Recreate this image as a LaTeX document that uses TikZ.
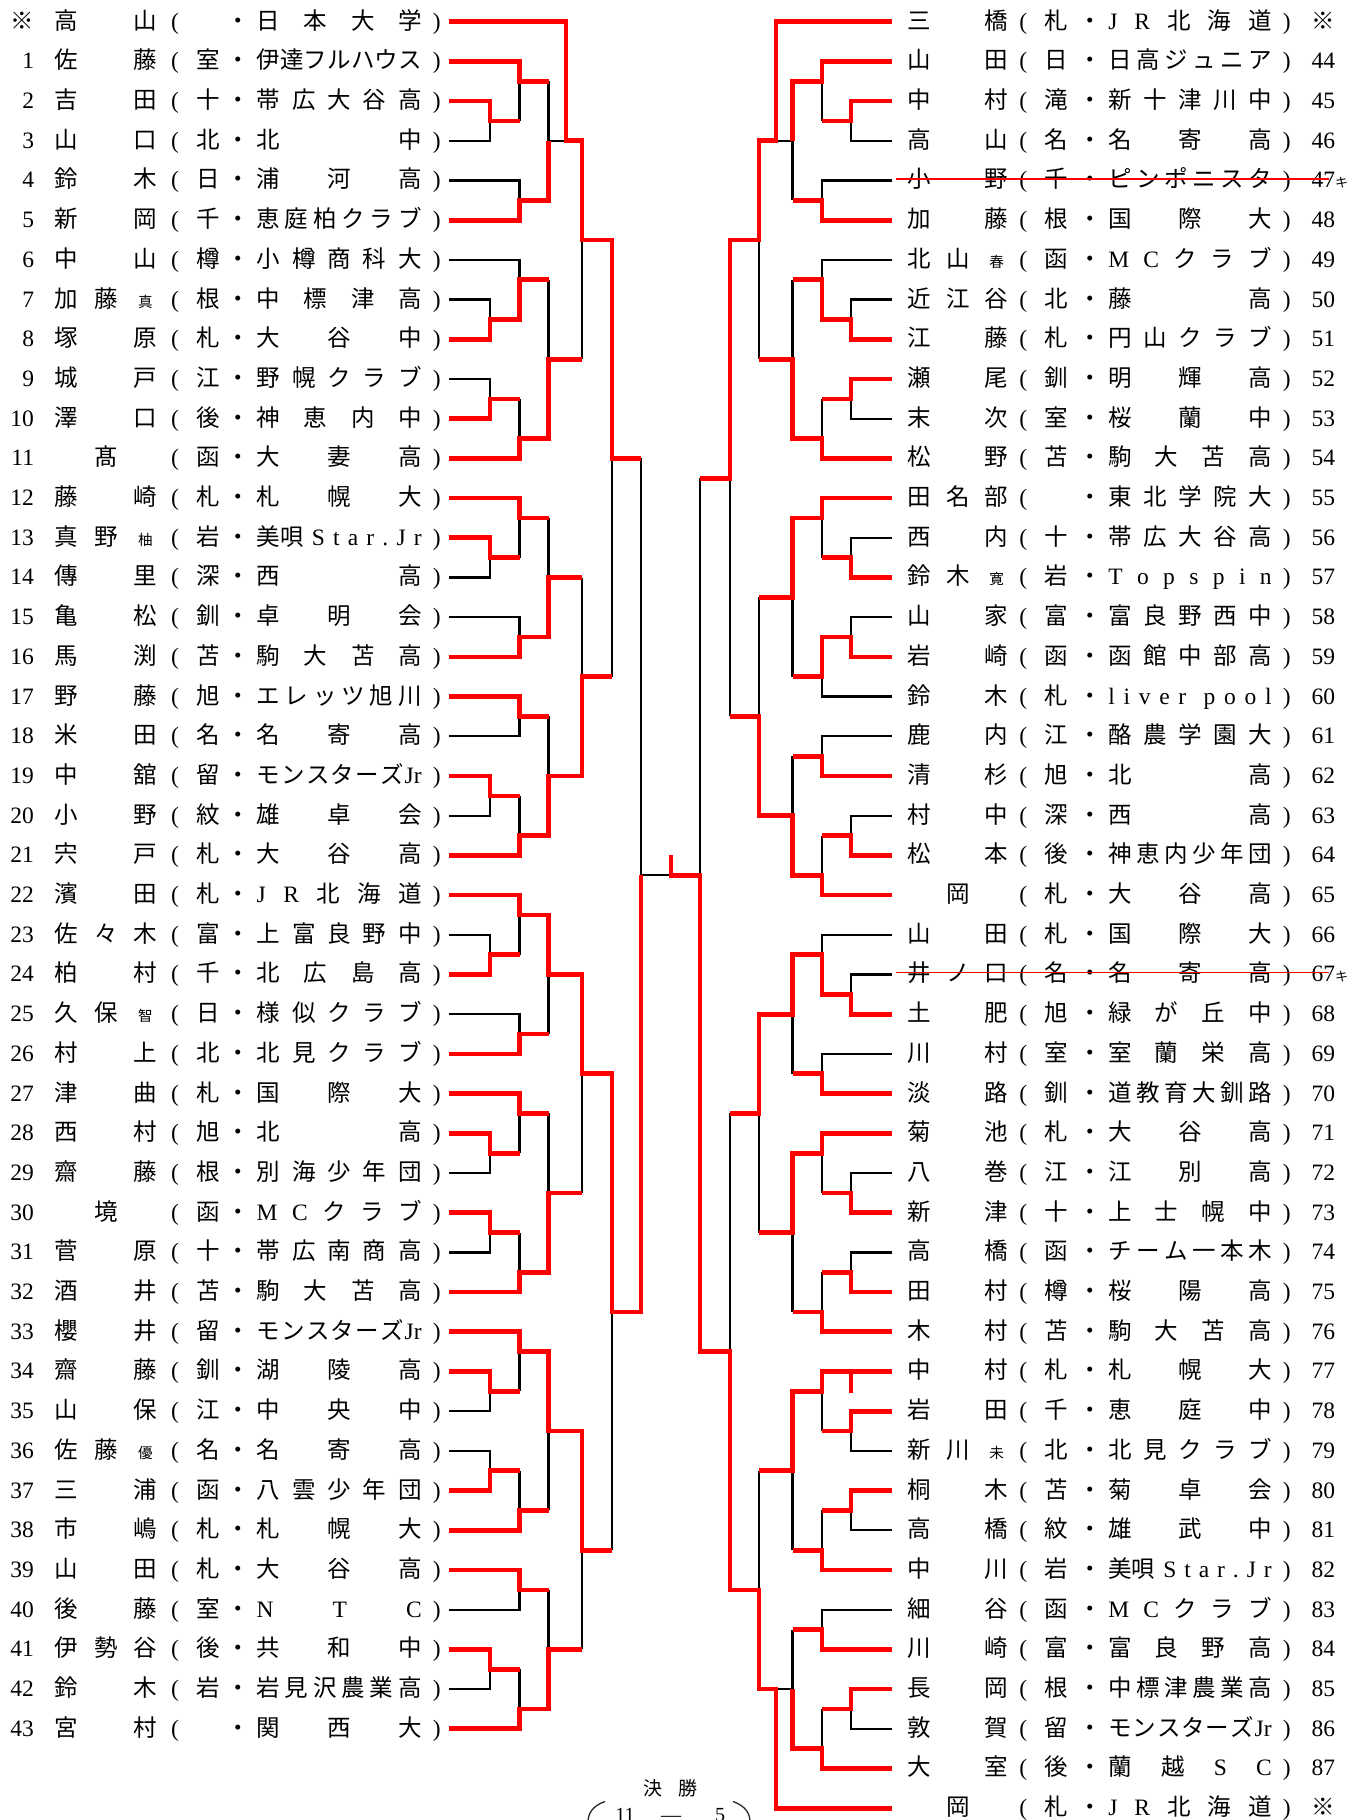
\documentclass[tikz,border=0pt]{standalone}
\usepackage{fontspec}
\setmainfont{Noto Sans CJK JP}
\newfontfamily\lat{Liberation Serif}
\newfontfamily\jp{Noto Sans CJK JP}
\definecolor{bred}{RGB}{255,0,0}
\newcommand\fsz{\fontsize{11.75pt}{14pt}\selectfont}
\newcommand\smk[1]{{\fontsize{7.3pt}{9pt}\selectfont #1}}
\newcommand\kk{\jp\fontsize{6.5pt}{7pt}\selectfont}
\newcommand\km{{\jp ※}}
\makeatletter
\newif\ifsprfirst
\newcommand\spr[1]{\sprfirsttrue\@tfor\spr@t:=#1\do{\ifsprfirst\sprfirstfalse\else\hfill\fi{\spr@t}}}
\makeatother
\tikzset{
  rl/.style={draw=bred,line width=2.35pt,line join=miter},
  bl/.style={draw=black,line width=1.15pt,line join=miter},
  strk/.style={draw=bred,line width=0.9pt},
  txt/.style={inner sep=0pt,outer sep=0pt,anchor=base,yshift=-3.7pt,font=\fsz},
  ftxt/.style={txt,font=\fontsize{9.5pt}{11pt}\selectfont},
  stxt/.style={txt,font=\fontsize{10pt}{12pt}\selectfont},
  parc/.style={draw=black!85,line width=0.65pt},
}
\newcommand\EntL[7]{%
  \node[txt,anchor=base east] (Ln#1) at (34,#1) {\lat #2};
  \node[txt] (La#1) at (66.7,#1) {#3};
  \node[txt] (Lb#1) at (106,#1) {#4};
  \node[txt] (Lc#1) at (145.5,#1) {#5};
  \node[txt] (Lo#1) at (175,#1) {\lat (};
  \node[txt] (Lr#1) at (208.3,#1) {#6};
  \node[txt] (Ld#1) at (238.3,#1) {・};
  \node[txt,anchor=base west] (Ls#1) at (256.7,#1) {\hbox to 82.5pt{#7}};
  \node[txt] (Lq#1) at (436.7,#1) {\lat )};
}
\newcommand\EntR[7]{%
  \node[txt] (Ra#1) at (919.3,#1) {#3};
  \node[txt] (Rb#1) at (958,#1) {#4};
  \node[txt] (Rc#1) at (996.7,#1) {#5};
  \node[txt] (Ro#1) at (1023.3,#1) {\lat (};
  \node[txt] (Rr#1) at (1056.7,#1) {#6};
  \node[txt] (Rd#1) at (1090,#1) {・};
  \node[txt,anchor=base west] (Rs#1) at (1108.3,#1) {\hbox to 81.7pt{#7}};
  \node[txt] (Rq#1) at (1286.7,#1) {\lat )};
  \node[txt,anchor=base west] (Rn#1) at (1311.5,#1) {\lat #2};
}
\begin{document}
\begin{tikzpicture}[x=0.5pt,y=-19.85pt]
\useasboundingbox (0,-0.5466) rectangle (1359,45.2972);
\clip (0,-0.5466) rectangle (1359,45.2972);
\fill[white] (0,-0.5466) rectangle (1359,45.2972);
% ---------------- left black
\draw[bl] (449,3)--(490,3)--(490,2.5);
\draw[bl] (519.5,2.5)--(519.5,1.5);
\draw[bl] (449,4)--(519.5,4)--(519.5,4.5);
\draw[bl] (548.5,1.5)--(548.5,3)--(566,3);
\draw[bl] (449,6)--(519.5,6)--(519.5,6.5);
\draw[bl] (449,7)--(490,7)--(490,7.5);
\draw[bl] (449,9)--(490,9)--(490,9.5);
\draw[bl] (519.5,9.5)--(519.5,10.5);
\draw[bl] (548.5,6.5)--(548.5,8.5);
\draw[bl] (582,8.5)--(582,5.5);
\draw[bl] (449,14)--(490,14)--(490,13.5);
\draw[bl] (519.5,13.5)--(519.5,12.5);
\draw[bl] (449,15)--(519.5,15)--(519.5,15.5);
\draw[bl] (548.5,12.5)--(548.5,14);
\draw[bl] (449,18)--(519.5,18)--(519.5,17.5);
\draw[bl] (449,20)--(490,20)--(490,19.5);
\draw[bl] (519.5,19.5)--(519.5,20.5);
\draw[bl] (548.5,17.5)--(548.5,19);
\draw[bl] (582,14)--(582,16.5);
\draw[bl] (612,16.5)--(612,11);
\draw[bl] (449,23)--(490,23)--(490,23.5);
\draw[bl] (519.5,23.5)--(519.5,22.5);
\draw[bl] (449,25)--(519.5,25)--(519.5,25.5);
\draw[bl] (548.5,25.5)--(548.5,24);
\draw[bl] (449,29)--(490,29)--(490,28.5);
\draw[bl] (519.5,28.5)--(519.5,27.5);
\draw[bl] (449,31)--(490,31)--(490,30.5);
\draw[bl] (519.5,30.5)--(519.5,31.5);
\draw[bl] (548.5,27.5)--(548.5,29.5);
\draw[bl] (582,29.5)--(582,26.5);
\draw[bl] (449,35)--(490,35)--(490,34.5);
\draw[bl] (519.5,34.5)--(519.5,33.5);
\draw[bl] (449,36)--(490,36)--(490,36.5);
\draw[bl] (519.5,36.5)--(519.5,37.5);
\draw[bl] (548.5,37.5)--(548.5,35.5);
\draw[bl] (449,40)--(519.5,40)--(519.5,39.5);
\draw[bl] (449,42)--(490,42)--(490,41.5);
\draw[bl] (519.5,41.5)--(519.5,42.5);
\draw[bl] (548.5,39.5)--(548.5,41);
\draw[bl] (582,41)--(582,38.5);
\draw[bl] (612,38.5)--(612,32.5);
\draw[bl] (641,11)--(641,21.5)--(669,21.5);
% ---------------- right black
\draw[bl] (892,3)--(851,3)--(851,2.5);
\draw[bl] (822,2.5)--(822,1.5);
\draw[bl] (892,4)--(822,4)--(822,4.5);
\draw[bl] (792.5,4.5)--(792.5,3)--(776,3);
\draw[bl] (892,6)--(822,6)--(822,6.5);
\draw[bl] (892,7)--(851,7)--(851,7.5);
\draw[bl] (892,10)--(851,10)--(851,9.5);
\draw[bl] (822,9.5)--(822,10.5);
\draw[bl] (792.5,6.5)--(792.5,8.5);
\draw[bl] (759,8.5)--(759,5.5);
\draw[bl] (892,13)--(851,13)--(851,13.5);
\draw[bl] (822,13.5)--(822,12.5);
\draw[bl] (892,15)--(851,15)--(851,15.5);
\draw[bl] (892,17)--(822,17)--(822,16.5);
\draw[bl] (792.5,16.5)--(792.5,14.5);
\draw[bl] (892,18)--(822,18)--(822,18.5);
\draw[bl] (892,20)--(851,20)--(851,20.5);
\draw[bl] (822,20.5)--(822,21.5);
\draw[bl] (792.5,18.5)--(792.5,20);
\draw[bl] (759,14.5)--(759,17.5);
\draw[bl] (730,17.5)--(730,11.5);
\draw[bl] (700,11.5)--(700,21.5);
\draw[bl] (892,23)--(822,23)--(822,23.5);
\draw[bl] (892,24)--(851,24)--(851,24.5);
\draw[bl] (892,26)--(822,26)--(822,26.5);
\draw[bl] (792.5,26.5)--(792.5,25);
\draw[bl] (892,29)--(851,29)--(851,29.5);
\draw[bl] (822,29.5)--(822,28.5);
\draw[bl] (892,31)--(851,31)--(851,31.5);
\draw[bl] (822,31.5)--(822,32.5);
\draw[bl] (792.5,32.5)--(792.5,30.5);
\draw[bl] (759,30.5)--(759,27.5);
\draw[bl] (730,27.5)--(730,33.5);
\draw[bl] (892,36)--(851,36)--(851,35.5);
\draw[bl] (822,35.5)--(822,34.5);
\draw[bl] (892,38)--(851,38)--(851,37.5);
\draw[bl] (822,37.5)--(822,38.5);
\draw[bl] (792.5,38.5)--(792.5,36.5);
\draw[bl] (892,40)--(822,40)--(822,40.5);
\draw[bl] (892,43)--(851,43)--(851,42.5);
\draw[bl] (822,42.5)--(822,43.5);
\draw[bl] (792.5,40.5)--(792.5,42)--(776,42);
\draw[bl] (759,36.5)--(759,39.5);
% ---------------- left red
\draw[rl] (449,2)--(490,2)--(490,2.5)--(519.5,2.5);
\draw[rl] (449,1)--(519.5,1)--(519.5,1.5)--(548.5,1.5);
\draw[rl] (449,5)--(519.5,5)--(519.5,4.5)--(548.5,4.5)--(548.5,3);
\draw[rl] (449,0)--(566,0)--(566,3)--(582,3)--(582,5.5)--(612,5.5)--(612,11)--(641,11);
\draw[rl] (449,8)--(490,8)--(490,7.5)--(519.5,7.5)--(519.5,6.5)--(548.5,6.5);
\draw[rl] (449,10)--(490,10)--(490,9.5)--(519.5,9.5);
\draw[rl] (449,11)--(519.5,11)--(519.5,10.5)--(548.5,10.5)--(548.5,8.5)--(582,8.5);
\draw[rl] (449,12)--(519.5,12)--(519.5,12.5)--(548.5,12.5);
\draw[rl] (449,13)--(490,13)--(490,13.5)--(519.5,13.5);
\draw[rl] (449,16)--(519.5,16)--(519.5,15.5)--(548.5,15.5)--(548.5,14)--(582,14);
\draw[rl] (449,17)--(519.5,17)--(519.5,17.5)--(548.5,17.5);
\draw[rl] (449,19)--(490,19)--(490,19.5)--(519.5,19.5);
\draw[rl] (449,21)--(519.5,21)--(519.5,20.5)--(548.5,20.5)--(548.5,19)--(582,19)--(582,16.5)--(612,16.5);
\draw[rl] (449,22)--(519.5,22)--(519.5,22.5)--(548.5,22.5)--(548.5,24)--(582,24)--(582,26.5)--(612,26.5)--(612,32.5)--(641,32.5)--(641,21.5);
\draw[rl] (449,24)--(490,24)--(490,23.5)--(519.5,23.5);
\draw[rl] (449,26)--(519.5,26)--(519.5,25.5)--(548.5,25.5);
\draw[rl] (449,27)--(519.5,27)--(519.5,27.5)--(548.5,27.5);
\draw[rl] (449,28)--(490,28)--(490,28.5)--(519.5,28.5);
\draw[rl] (449,30)--(490,30)--(490,30.5)--(519.5,30.5);
\draw[rl] (449,32)--(519.5,32)--(519.5,31.5)--(548.5,31.5)--(548.5,29.5)--(582,29.5);
\draw[rl] (449,33)--(519.5,33)--(519.5,33.5)--(548.5,33.5)--(548.5,35.5)--(582,35.5)--(582,38.5)--(612,38.5);
\draw[rl] (449,34)--(490,34)--(490,34.5)--(519.5,34.5);
\draw[rl] (449,37)--(490,37)--(490,36.5)--(519.5,36.5);
\draw[rl] (449,38)--(519.5,38)--(519.5,37.5)--(548.5,37.5);
\draw[rl] (449,39)--(519.5,39)--(519.5,39.5)--(548.5,39.5);
\draw[rl] (449,41)--(490,41)--(490,41.5)--(519.5,41.5);
\draw[rl] (449,43)--(519.5,43)--(519.5,42.5)--(548.5,42.5)--(548.5,41)--(582,41);
% ---------------- right red
\draw[rl] (892,2)--(851,2)--(851,2.5)--(822,2.5);
\draw[rl] (892,1)--(822,1)--(822,1.5)--(792.5,1.5)--(792.5,3);
\draw[rl] (892,5)--(822,5)--(822,4.5)--(792.5,4.5);
\draw[rl] (892,0)--(776,0)--(776,3)--(759,3)--(759,5.5)--(730,5.5)--(730,11.5)--(700,11.5);
\draw[rl] (892,8)--(851,8)--(851,7.5)--(822,7.5)--(822,6.5)--(792.5,6.5);
\draw[rl] (892,9)--(851,9)--(851,9.5)--(822,9.5);
\draw[rl] (892,11)--(822,11)--(822,10.5)--(792.5,10.5)--(792.5,8.5)--(759,8.5);
\draw[rl] (892,12)--(822,12)--(822,12.5)--(792.5,12.5)--(792.5,14.5)--(759,14.5);
\draw[rl] (892,14)--(851,14)--(851,13.5)--(822,13.5);
\draw[rl] (892,16)--(851,16)--(851,15.5)--(822,15.5)--(822,16.5)--(792.5,16.5);
\draw[rl] (892,19)--(822,19)--(822,18.5)--(792.5,18.5);
\draw[rl] (892,21)--(851,21)--(851,20.5)--(822,20.5);
\draw[rl] (892,22)--(822,22)--(822,21.5)--(792.5,21.5)--(792.5,20)--(759,20)--(759,17.5)--(730,17.5);
\draw[rl] (892,25)--(851,25)--(851,24.5)--(822,24.5)--(822,23.5)--(792.5,23.5)--(792.5,25)--(759,25)--(759,27.5)--(730,27.5);
\draw[rl] (892,27)--(822,27)--(822,26.5)--(792.5,26.5);
\draw[rl] (892,28)--(822,28)--(822,28.5)--(792.5,28.5)--(792.5,30.5)--(759,30.5);
\draw[rl] (892,30)--(851,30)--(851,29.5)--(822,29.5);
\draw[rl] (892,32)--(851,32)--(851,31.5)--(822,31.5);
\draw[rl] (892,33)--(822,33)--(822,32.5)--(792.5,32.5);
\draw[rl] (892,34)--(822,34)--(822,34.5)--(792.5,34.5)--(792.5,36.5)--(759,36.5);
\draw[rl] (851,34)--(851,34.53);
\draw[rl] (892,35)--(851,35)--(851,35.5)--(822,35.5);
\draw[rl] (892,37)--(851,37)--(851,37.5)--(822,37.5);
\draw[rl] (892,39)--(822,39)--(822,38.5)--(792.5,38.5);
\draw[rl] (892,41)--(822,41)--(822,40.5)--(792.5,40.5);
\draw[rl] (892,42)--(851,42)--(851,42.5)--(822,42.5);
\draw[rl] (892,44)--(822,44)--(822,43.5)--(792.5,43.5)--(792.5,42);
\draw[rl] (892,45)--(776,45)--(776,42)--(759,42)--(759,39.5)--(730,39.5)--(730,33.5)--(700,33.5)--(700,21.5)--(671,21.5)--(671,21);
% ---------------- left entries
\EntL{0}{\km}{高}{}{山}{}{\spr{日本大学}}
\EntL{1}{1}{佐}{}{藤}{室}{\spr{伊達フルハウス}}
\EntL{2}{2}{吉}{}{田}{十}{\spr{帯広大谷高}}
\EntL{3}{3}{山}{}{口}{北}{\spr{北中}}
\EntL{4}{4}{鈴}{}{木}{日}{\spr{浦河高}}
\EntL{5}{5}{新}{}{岡}{千}{\spr{恵庭柏クラブ}}
\EntL{6}{6}{中}{}{山}{樽}{\spr{小樽商科大}}
\EntL{7}{7}{加}{藤}{\smk{真}}{根}{\spr{中標津高}}
\EntL{8}{8}{塚}{}{原}{札}{\spr{大谷中}}
\EntL{9}{9}{城}{}{戸}{江}{\spr{野幌クラブ}}
\EntL{10}{10}{澤}{}{口}{後}{\spr{神恵内中}}
\EntL{11}{11}{}{髙}{}{函}{\spr{大妻高}}
\EntL{12}{12}{藤}{}{崎}{札}{\spr{札幌大}}
\EntL{13}{13}{真}{野}{\smk{柚}}{岩}{美唄\hfill{\lat S}\hfill{\lat t}\hfill{\lat a}\hfill{\lat r}\hfill{\lat .}\hfill{\lat J}\hfill{\lat r}}
\EntL{14}{14}{傳}{}{里}{深}{\spr{西高}}
\EntL{15}{15}{亀}{}{松}{釧}{\spr{卓明会}}
\EntL{16}{16}{馬}{}{渕}{苫}{\spr{駒大苫高}}
\EntL{17}{17}{野}{}{藤}{旭}{\spr{エレッツ旭川}}
\EntL{18}{18}{米}{}{田}{名}{\spr{名寄高}}
\EntL{19}{19}{中}{}{舘}{留}{\spr{モンスターズ{\lat Jr}}}
\EntL{20}{20}{小}{}{野}{紋}{\spr{雄卓会}}
\EntL{21}{21}{宍}{}{戸}{札}{\spr{大谷高}}
\EntL{22}{22}{濱}{}{田}{札}{\spr{{\lat J}{\lat R}北海道}}
\EntL{23}{23}{佐}{々}{木}{富}{\spr{上富良野中}}
\EntL{24}{24}{柏}{}{村}{千}{\spr{北広島高}}
\EntL{25}{25}{久}{保}{\smk{智}}{日}{\spr{様似クラブ}}
\EntL{26}{26}{村}{}{上}{北}{\spr{北見クラブ}}
\EntL{27}{27}{津}{}{曲}{札}{\spr{国際大}}
\EntL{28}{28}{西}{}{村}{旭}{\spr{北高}}
\EntL{29}{29}{齋}{}{藤}{根}{\spr{別海少年団}}
\EntL{30}{30}{}{境}{}{函}{\spr{{\lat M}{\lat C}クラブ}}
\EntL{31}{31}{菅}{}{原}{十}{\spr{帯広南商高}}
\EntL{32}{32}{酒}{}{井}{苫}{\spr{駒大苫高}}
\EntL{33}{33}{櫻}{}{井}{留}{\spr{モンスターズ{\lat Jr}}}
\EntL{34}{34}{齋}{}{藤}{釧}{\spr{湖陵高}}
\EntL{35}{35}{山}{}{保}{江}{\spr{中央中}}
\EntL{36}{36}{佐}{藤}{\smk{優}}{名}{\spr{名寄高}}
\EntL{37}{37}{三}{}{浦}{函}{\spr{八雲少年団}}
\EntL{38}{38}{市}{}{嶋}{札}{\spr{札幌大}}
\EntL{39}{39}{山}{}{田}{札}{\spr{大谷高}}
\EntL{40}{40}{後}{}{藤}{室}{\spr{{\lat N}{\lat T}{\lat C}}}
\EntL{41}{41}{伊}{勢}{谷}{後}{\spr{共和中}}
\EntL{42}{42}{鈴}{}{木}{岩}{\spr{岩見沢農業高}}
\EntL{43}{43}{宮}{}{村}{}{\spr{関西大}}
% ---------------- right entries
\EntR{0}{\km}{三}{}{橋}{札}{\spr{{\lat J}{\lat R}北海道}}
\EntR{1}{44}{山}{}{田}{日}{\spr{日高ジュニア}}
\EntR{2}{45}{中}{}{村}{滝}{\spr{新十津川中}}
\EntR{3}{46}{高}{}{山}{名}{\spr{名寄高}}
\EntR{4}{47{\kk キ}}{小}{}{野}{千}{\spr{ピンポニスタ}}
\EntR{5}{48}{加}{}{藤}{根}{\spr{国際大}}
\EntR{6}{49}{北}{山}{\smk{春}}{函}{\spr{{\lat M}{\lat C}クラブ}}
\EntR{7}{50}{近}{江}{谷}{北}{\spr{藤高}}
\EntR{8}{51}{江}{}{藤}{札}{\spr{円山クラブ}}
\EntR{9}{52}{瀬}{}{尾}{釧}{\spr{明輝高}}
\EntR{10}{53}{末}{}{次}{室}{\spr{桜蘭中}}
\EntR{11}{54}{松}{}{野}{苫}{\spr{駒大苫高}}
\EntR{12}{55}{田}{名}{部}{}{\spr{東北学院大}}
\EntR{13}{56}{西}{}{内}{十}{\spr{帯広大谷高}}
\EntR{14}{57}{鈴}{木}{\smk{寛}}{岩}{\spr{{\lat T}{\lat o}{\lat p}{\lat s}{\lat p}{\lat i}{\lat n}}}
\EntR{15}{58}{山}{}{家}{富}{\spr{富良野西中}}
\EntR{16}{59}{岩}{}{崎}{函}{\spr{函館中部高}}
\EntR{17}{60}{鈴}{}{木}{札}{{\lat l}\hfill{\lat i}\hfill{\lat v}\hfill{\lat e}\hfill{\lat r}\hfill\hfill{\lat p}\hfill{\lat o}\hfill{\lat o}\hfill{\lat l}}
\EntR{18}{61}{鹿}{}{内}{江}{\spr{酪農学園大}}
\EntR{19}{62}{清}{}{杉}{旭}{\spr{北高}}
\EntR{20}{63}{村}{}{中}{深}{\spr{西高}}
\EntR{21}{64}{松}{}{本}{後}{\spr{神恵内少年団}}
\EntR{22}{65}{}{岡}{}{札}{\spr{大谷高}}
\EntR{23}{66}{山}{}{田}{札}{\spr{国際大}}
\EntR{24}{67{\kk キ}}{井}{ノ}{口}{名}{\spr{名寄高}}
\EntR{25}{68}{土}{}{肥}{旭}{\spr{緑が丘中}}
\EntR{26}{69}{川}{}{村}{室}{\spr{室蘭栄高}}
\EntR{27}{70}{淡}{}{路}{釧}{\spr{道教育大釧路}}
\EntR{28}{71}{菊}{}{池}{札}{\spr{大谷高}}
\EntR{29}{72}{八}{}{巻}{江}{\spr{江別高}}
\EntR{30}{73}{新}{}{津}{十}{\spr{上士幌中}}
\EntR{31}{74}{高}{}{橋}{函}{\spr{チーム一本木}}
\EntR{32}{75}{田}{}{村}{樽}{\spr{桜陽高}}
\EntR{33}{76}{木}{}{村}{苫}{\spr{駒大苫高}}
\EntR{34}{77}{中}{}{村}{札}{\spr{札幌大}}
\EntR{35}{78}{岩}{}{田}{千}{\spr{恵庭中}}
\EntR{36}{79}{新}{川}{\smk{未}}{北}{\spr{北見クラブ}}
\EntR{37}{80}{桐}{}{木}{苫}{\spr{菊卓会}}
\EntR{38}{81}{高}{}{橋}{紋}{\spr{雄武中}}
\EntR{39}{82}{中}{}{川}{岩}{美唄\hfill{\lat S}\hfill{\lat t}\hfill{\lat a}\hfill{\lat r}\hfill{\lat .}\hfill{\lat J}\hfill{\lat r}}
\EntR{40}{83}{細}{}{谷}{函}{\spr{{\lat M}{\lat C}クラブ}}
\EntR{41}{84}{川}{}{崎}{富}{\spr{富良野高}}
\EntR{42}{85}{長}{}{岡}{根}{\spr{中標津農業高}}
\EntR{43}{86}{敦}{}{賀}{留}{\spr{モンスターズ{\lat Jr}}}
\EntR{44}{87}{大}{}{室}{後}{\spr{蘭越{\lat S}{\lat C}}}
\EntR{45}{\km}{}{岡}{}{札}{\spr{{\lat J}{\lat R}北海道}}
% strike-through of withdrawn entries
\draw[strk] (896,3.955)--(1329,3.955);
\draw[strk] (896,23.95)--(1329,23.95);
% final
\node[ftxt] (fin1) at (653.3,44.49) {決};
\node[ftxt] (fin2) at (688.3,44.49) {勝};
\node[stxt] (sc2) at (625,45.14) {\lat 11};
\node[stxt] (sc3) at (671,45.14) {\lat —};
\node[stxt] (sc4) at (720,45.14) {\lat 5};
\draw[parc] (605,44.831) .. controls (592,44.945) and (588,45.146) .. (588,45.348);
\draw[parc] (733,44.831) .. controls (746,44.945) and (750,45.146) .. (750,45.348);
\end{tikzpicture}
\end{document}
